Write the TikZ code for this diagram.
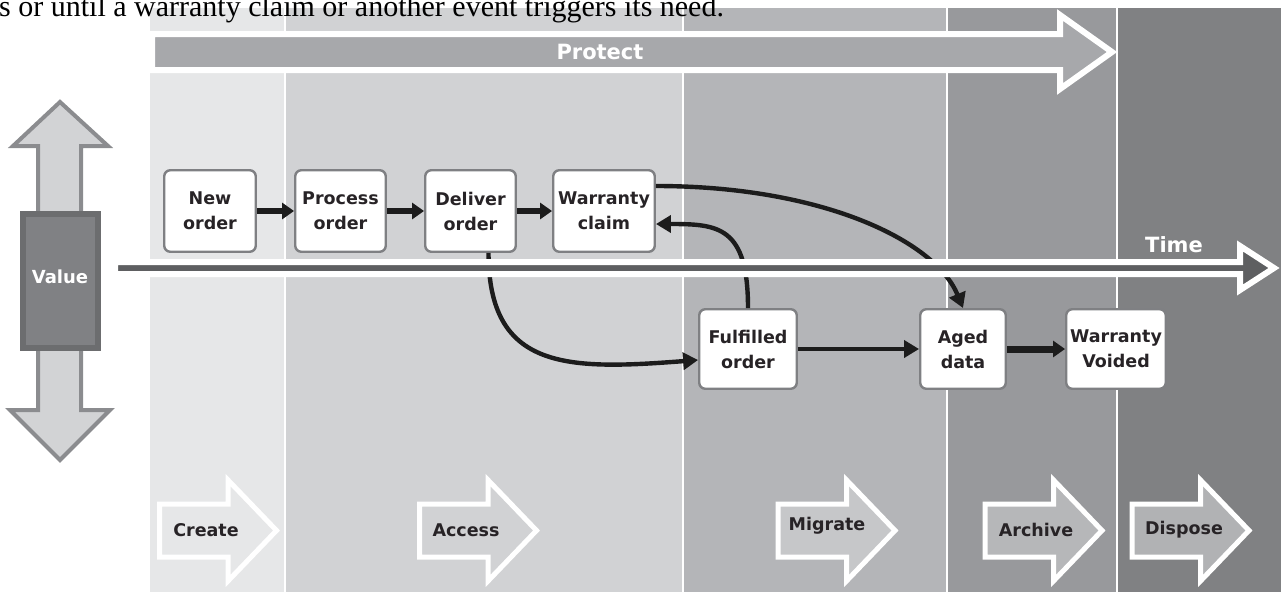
\documentclass[tikz,border=0pt]{standalone}
\usepackage{fontspec}
\usetikzlibrary{arrows.meta,calc}
\newfontfamily\labfont{DejaVu Sans}
\newfontfamily\bodyfont{Liberation Serif}
% column shades of the life-cycle phases
\definecolor{bandCreate}{HTML}{E6E7E8}
\definecolor{bandAccess}{HTML}{D1D2D4}
\definecolor{bandMigrate}{HTML}{B4B5B8}
\definecolor{bandArchive}{HTML}{98999C}
\definecolor{bandDispose}{HTML}{808183}
\definecolor{protectfill}{HTML}{A7A8AB}
\definecolor{timefill}{HTML}{5E5F61}
\definecolor{boxline}{HTML}{7F8083}
\definecolor{ink}{HTML}{272326}
\definecolor{arrowink}{HTML}{1C1C1C}
\definecolor{valueshaft}{HTML}{D2D3D5}
\definecolor{valueedge}{HTML}{8B8C8F}
\definecolor{valueouter}{HTML}{6C6D6F}
\definecolor{valueinner}{HTML}{808184}
\definecolor{phaseMigrate}{HTML}{C6C7C9}
\definecolor{phaseArchive}{HTML}{B6B7B9}
\definecolor{phaseDispose}{HTML}{B1B2B4}
\tikzset{
  stage/.style={draw=boxline, line width=2.4pt, fill=white, rounded corners=6pt,
    inner sep=0pt, align=center, text=ink,
    font=\labfont\bfseries\fontsize{17.5}{25}\selectfont},
  conn/.style={draw=arrowink, line width=4.4pt,
    -{Triangle[length=15pt,width=17pt]}},
  shortconn/.style={draw=arrowink, line width=6pt,
    -{Triangle[length=12pt,width=16pt]}},
  bigarrow/.style={draw=white, line width=6pt, line join=miter},
  whitelabel/.style={text=white, inner sep=0pt,
    font=\labfont\bfseries\fontsize{21}{24}\selectfont},
  phaselabel/.style={text=ink, inner sep=0pt,
    font=\labfont\bfseries\fontsize{17.5}{20}\selectfont},
}
\begin{document}
\begin{tikzpicture}[x=1pt,y=-1pt]
\useasboundingbox (0,0) rectangle (1281,592);
\clip (0,0) rectangle (1281,592);

% phase columns
\fill[bandCreate]  (150,8) rectangle (284.7,592);
\fill[bandAccess]  (284.7,8) rectangle (682.7,592);
\fill[bandMigrate] (682.7,8) rectangle (947.2,592);
\fill[bandArchive] (947.2,8) rectangle (1116.7,592);
\fill[bandDispose] (1116.7,8) rectangle (1281,592);
\foreach \sx in {284.7,682.7,947.2,1116.7}
  \draw[white, line width=1.6pt] (\sx,8) -- (\sx,592);

% Protect arrow across the top
\filldraw[bigarrow, fill=protectfill]
  (152,34) -- (1060,34) -- (1060,15) -- (1112,52) -- (1060,89) -- (1060,70) -- (152,70) -- cycle;
\node[whitelabel] (protect) at (600,52) {Protect};

% process steps
\node[stage, minimum width=91.5, minimum height=81.5] (new)   at (210,211)   {New\\order};
\node[stage, minimum width=90.5, minimum height=81.5] (proc)  at (340.5,211) {Process\\order};
\node[stage, minimum width=90.5, minimum height=81.5] (deliv) at (470.5,211) {Deliver\\order};
\node[stage, minimum width=101.5, minimum height=81.5] (claim) at (604,211)  {Warranty\\claim};
\node[stage, minimum width=97.5, minimum height=79.5] (ful)   at (748,349)   {Fulfilled\\order};
\node[stage, minimum width=85.5, minimum height=79.5] (aged)  at (963,349)   {Aged\\data};
\node[stage, minimum width=99.5, minimum height=79.5] (void)  at (1116,349)  {Warranty\\Voided};

% connectors
\draw[shortconn] (new) -- (proc);
\draw[shortconn] (proc) -- (deliv);
\draw[shortconn] (deliv) -- (claim);
\draw[conn] ($(claim.east)+(0,-25)$) .. controls +(165,0) and +(-28,-68) .. (aged.north);
\draw[conn] (ful.north) .. controls +(0,-82) and +(62,0) .. ($(claim.east)+(0,13)$);
\draw[conn] ($(deliv.south)+(18,0)$) .. controls +(0,118) and +(-130,10) .. ($(ful.west)+(0,11)$);
\draw[conn] (ful) -- (aged);
\draw[shortconn, line width=7pt] (aged) -- (void);

% Time axis
\filldraw[bigarrow, fill=timefill]
  (115,262) -- (1240,262) -- (1240,246) -- (1274,268) -- (1240,290) -- (1240,274) -- (115,274) -- cycle;
\node[whitelabel] (time) at (1174,245) {Time};

% Value double arrow
\filldraw[fill=valueshaft, draw=valueedge, line width=4pt, line join=miter]
  (60,102) -- (108,146) -- (81,146) -- (81,410) -- (110,410) -- (60,460)
  -- (10,410) -- (38,410) -- (38,146) -- (13,146) -- cycle;
\filldraw[fill=valueinner, draw=valueouter, line width=6pt] (23,214) rectangle (98,348);
\node[whitelabel, font=\labfont\bfseries\fontsize{18}{20}\selectfont] (value) at (60,277) {Value};

% phase arrows along the bottom
\foreach \L/\c/\t/\tx/\ty in {159.5/bandCreate/Create/206/530,
                              419.5/bandAccess/Access/466/530,
                              778/phaseMigrate/Migrate/827/526,
                              985/phaseArchive/Archive/1036/530,
                              1132/phaseDispose/Dispose/1184/530}{
  \filldraw[draw=white, line width=5pt, fill=\c, line join=miter]
    (\L,504) -- ({\L+68.5},504) -- ({\L+68.5},480) -- ({\L+117},530.5)
    -- ({\L+68.5},581) -- ({\L+68.5},557) -- (\L,557) -- cycle;
  \node[phaselabel] (ph-\t) at (\tx,\ty) {\t};
}

% running text of the page above
\node[anchor=base west, inner sep=0pt, text=black,
  font=\bodyfont\fontsize{30}{31}\selectfont] (lead) at (-1,16)
  {s or until a warranty claim or another event triggers its need.};
\end{tikzpicture}
\end{document}
